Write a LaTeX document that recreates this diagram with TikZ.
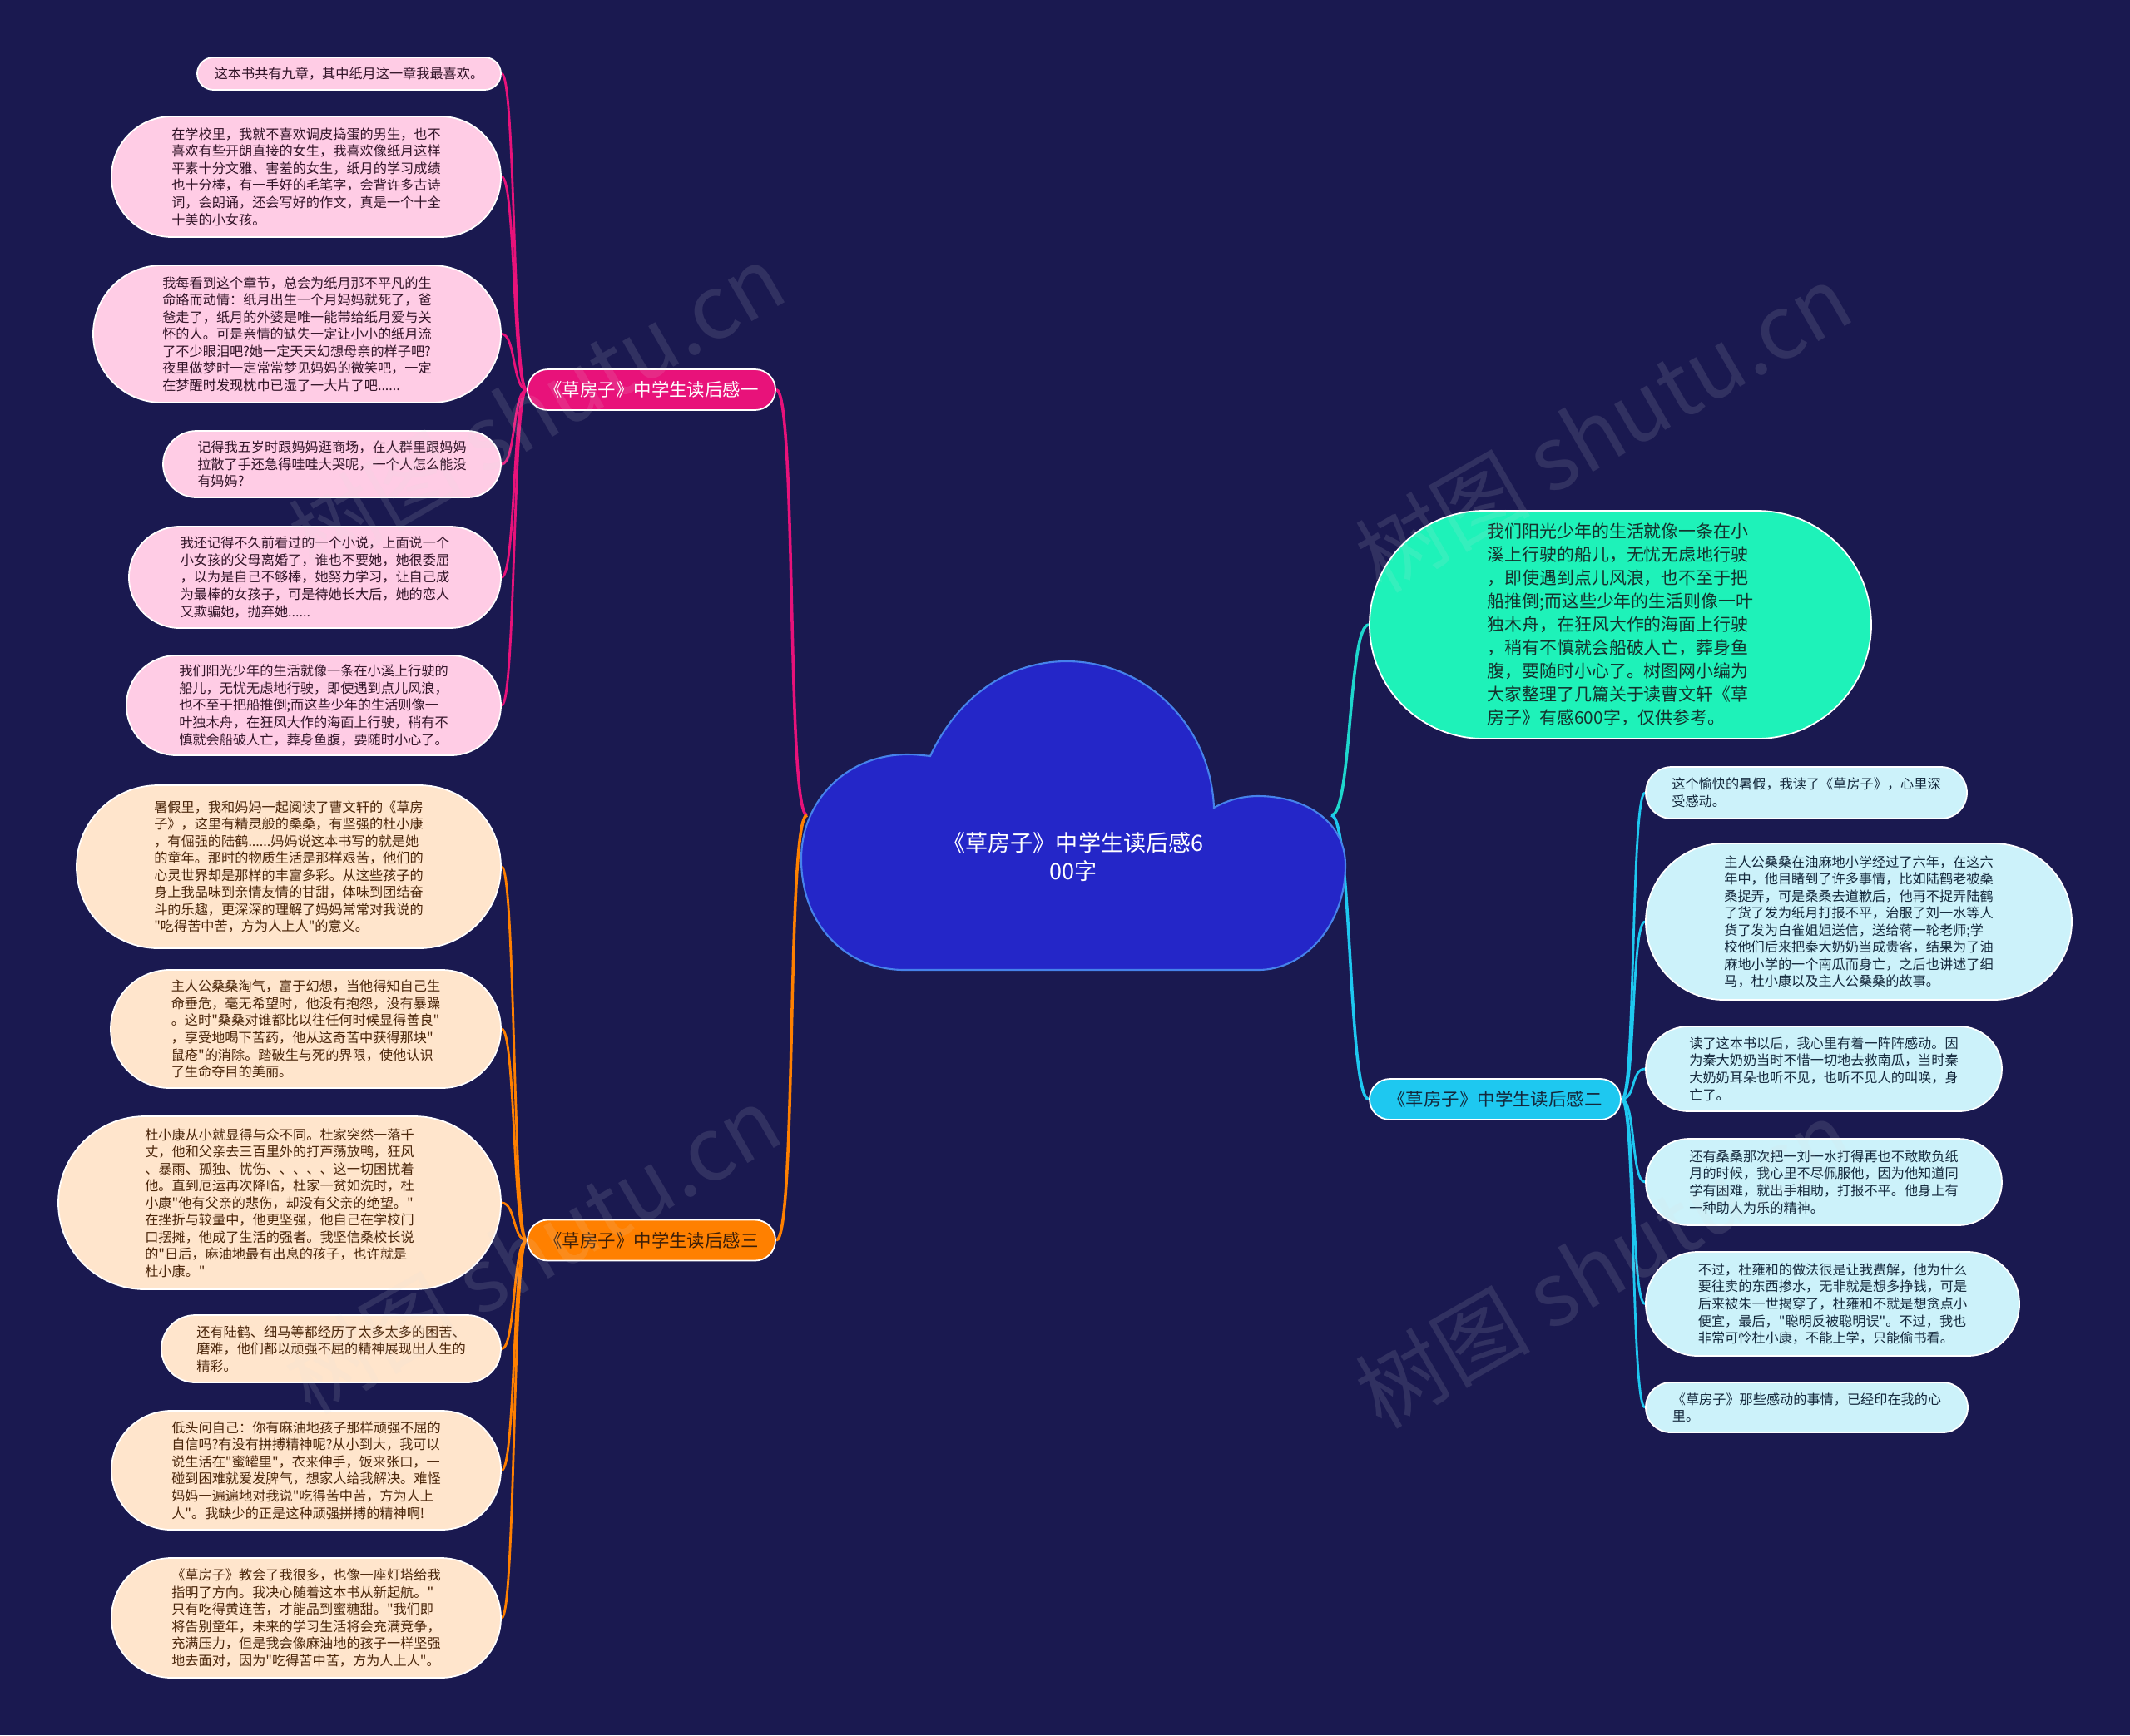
\documentclass[tikz,border=0pt]{standalone}
\usepackage{fontspec}
\setmainfont{Noto Sans CJK SC}[Ligatures=TeXOff]
\usetikzlibrary{shapes.misc}
\definecolor{bgcol}{RGB}{26,25,80}
\definecolor{cloudfill}{RGB}{36,38,200}
\definecolor{cloudline}{RGB}{70,130,235}
\definecolor{pinkmain}{RGB}{232,18,122}
\definecolor{pinkleaf}{RGB}{255,204,229}
\definecolor{pinktext}{RGB}{50,20,40}
\definecolor{orangemain}{RGB}{255,128,0}
\definecolor{orangeleaf}{RGB}{255,229,204}
\definecolor{orangetext}{RGB}{75,38,10}
\definecolor{cyanmain}{RGB}{30,200,240}
\definecolor{cyanleaf}{RGB}{204,242,250}
\definecolor{cyantext}{RGB}{20,40,60}
\definecolor{tealfill}{RGB}{30,242,185}
\definecolor{tealline}{RGB}{30,215,205}
\definecolor{tealtext}{RGB}{20,50,45}
\pgfdeclarelayer{bg}
\pgfdeclarelayer{edges}
\pgfsetlayers{bg,edges,main}
\tikzset{
  leafbase/.style={rounded rectangle, draw=white, line width=0.5pt, align=left,
    font=\fontsize{4.6}{5.85}\selectfont, inner sep=0pt},
  pinkleafbox/.style={leafbase, fill=pinkleaf, text=pinktext},
  orangeleafbox/.style={leafbase, fill=orangeleaf, text=orangetext},
  cyanleafbox/.style={leafbase, fill=cyanleaf, text=cyantext},
  labelbase/.style={rounded rectangle, draw=white, line width=0.5pt, align=center,
    font=\fontsize{6.1}{7}\selectfont, inner sep=0pt, minimum width=2.98cm, minimum height=0.49cm},
  pinkline/.style={draw=pinkmain, line width=0.8pt},
  orangeline/.style={draw=orangemain, line width=0.8pt},
  cyanline/.style={draw=cyanmain, line width=0.8pt},
  watermark/.style={text=white!75!gray, opacity=0.12, rotate=30, font=\fontsize{30}{30}\selectfont}
}
\begin{document}
\begin{tikzpicture}[x=1cm,y=-1cm]
\begin{pgfonlayer}{bg}
\fill[bgcol] (0,0) rectangle (25.6,20.86);
\end{pgfonlayer}
\useasboundingbox (0,0) rectangle (25.6,20.86);

% cloud
\draw[fill=cloudfill, draw=cloudline, line width=0.6pt]
  (10.87,11.66) .. controls (10.15,11.66) and (9.63,11.10) .. (9.63,10.33)
  .. controls (9.63,9.62) and (10.18,9.07) .. (10.91,9.07)
  .. controls (11.00,9.07) and (11.10,9.08) .. (11.18,9.09)
  .. controls (11.50,8.40) and (12.10,7.95) .. (12.82,7.95)
  .. controls (13.75,7.95) and (14.55,8.70) .. (14.59,9.71)
  .. controls (14.75,9.62) and (14.93,9.57) .. (15.12,9.57)
  .. controls (15.72,9.57) and (16.17,9.90) .. (16.17,10.40)
  .. controls (16.17,11.10) and (15.70,11.66) .. (15.12,11.66) -- cycle;
\node[align=center, text=white, font=\fontsize{7.7}{9.8}\selectfont] (root) at (12.90,10.30)
  {《草房子》中学生读后感6\\00字};
\coordinate (jl) at (9.70,9.80);
\coordinate (jr) at (16.00,9.80);

% branch labels
\node[labelbase, fill=pinkmain, text=white] (l1) at (7.83,4.685) {《草房子》中学生读后感一};
\node[labelbase, fill=orangemain, text=orangetext!80!black] (l3) at (7.83,14.91) {《草房子》中学生读后感三};
\node[labelbase, fill=cyanmain, text=cyantext, minimum width=3.02cm] (l2) at (17.97,13.215) {《草房子》中学生读后感二};

% teal node
\node[rounded rectangle, draw=white, line width=0.5pt, fill=tealfill, text=tealtext, align=left,
  font=\fontsize{5.95}{7.95}\selectfont, inner sep=0pt, minimum width=6.03cm, minimum height=2.74cm] (t) at (19.475,7.51)
 {我们阳光少年的生活就像一条在小\\溪上行驶的船儿，无忧无虑地行驶\\，即使遇到点儿风浪，也不至于把\\船推倒;而这些少年的生活则像一叶\\独木舟，在狂风大作的海面上行驶\\，稍有不慎就会船破人亡，葬身鱼\\腹，要随时小心了。树图网小编为\\大家整理了几篇关于读曹文轩《草\\房子》有感600字，仅供参考。};

% pink leaves
\node[pinkleafbox, minimum width=3.65cm, minimum height=0.39cm] (p1) at (4.195,0.885)
 {这本书共有九章，其中纸月这一章我最喜欢。};
\node[pinkleafbox, minimum width=4.68cm, minimum height=1.45cm] (p2) at (3.68,2.125)
 {在学校里，我就不喜欢调皮捣蛋的男生，也不\\喜欢有些开朗直接的女生，我喜欢像纸月这样\\平素十分文雅、害羞的女生，纸月的学习成绩\\也十分棒，有一手好的毛笔字，会背许多古诗\\词，会朗诵，还会写好的作文，真是一个十全\\十美的小女孩。};
\node[pinkleafbox, minimum width=4.90cm, minimum height=1.65cm] (p3) at (3.57,4.015)
 {我每看到这个章节，总会为纸月那不平凡的生\\命路而动情：纸月出生一个月妈妈就死了，爸\\爸走了，纸月的外婆是唯一能带给纸月爱与关\\怀的人。可是亲情的缺失一定让小小的纸月流\\了不少眼泪吧?她一定天天幻想母亲的样子吧?\\夜里做梦时一定常常梦见妈妈的微笑吧，一定\\在梦醒时发现枕巾已湿了一大片了吧......};
\node[pinkleafbox, minimum width=4.06cm, minimum height=0.80cm] (p4) at (3.99,5.58)
 {记得我五岁时跟妈妈逛商场，在人群里跟妈妈\\拉散了手还急得哇哇大哭呢，一个人怎么能没\\有妈妈?};
\node[pinkleafbox, minimum width=4.47cm, minimum height=1.22cm] (p5) at (3.785,6.94)
 {我还记得不久前看过的一个小说，上面说一个\\小女孩的父母离婚了，谁也不要她，她很委屈\\，以为是自己不够棒，她努力学习，让自己成\\为最棒的女孩子，可是待她长大后，她的恋人\\又欺骗她，抛弃她......};
\node[pinkleafbox, minimum width=4.50cm, minimum height=1.20cm] (p6) at (3.77,8.48)
 {我们阳光少年的生活就像一条在小溪上行驶的\\船儿，无忧无虑地行驶，即使遇到点儿风浪，\\也不至于把船推倒;而这些少年的生活则像一\\叶独木舟，在狂风大作的海面上行驶，稍有不\\慎就会船破人亡，葬身鱼腹，要随时小心了。};

% orange leaves
\node[orangeleafbox, minimum width=5.10cm, minimum height=1.96cm] (o1) at (3.47,10.42)
 {暑假里，我和妈妈一起阅读了曹文轩的《草房\\子》，这里有精灵般的桑桑，有坚强的杜小康\\，有倔强的陆鹤......妈妈说这本书写的就是她\\的童年。那时的物质生活是那样艰苦，他们的\\心灵世界却是那样的丰富多彩。从这些孩子的\\身上我品味到亲情友情的甘甜，体味到团结奋\\斗的乐趣，更深深的理解了妈妈常常对我说的\\"吃得苦中苦，方为人上人"的意义。};
\node[orangeleafbox, minimum width=4.69cm, minimum height=1.42cm] (o2) at (3.675,12.37)
 {主人公桑桑淘气，富于幻想，当他得知自己生\\命垂危，毫无希望时，他没有抱怨，没有暴躁\\。这时"桑桑对谁都比以往任何时候显得善良"\\，享受地喝下苦药，他从这奇苦中获得那块"\\鼠疮"的消除。踏破生与死的界限，使他认识\\了生命夺目的美丽。};
\node[orangeleafbox, minimum width=5.32cm, minimum height=2.08cm] (o3) at (3.36,14.46)
 {杜小康从小就显得与众不同。杜家突然一落千\\丈，他和父亲去三百里外的打芦荡放鸭，狂风\\、暴雨、孤独、忧伤、、、、、这一切困扰着\\他。直到厄运再次降临，杜家一贫如洗时，杜\\小康"他有父亲的悲伤，却没有父亲的绝望。"\\在挫折与较量中，他更坚强，他自己在学校门\\口摆摊，他成了生活的强者。我坚信桑校长说\\的"日后，麻油地最有出息的孩子，也许就是\\杜小康。"};
\node[orangeleafbox, minimum width=4.08cm, minimum height=0.81cm] (o4) at (3.98,16.215)
 {还有陆鹤、细马等都经历了太多太多的困苦、\\磨难，他们都以顽强不屈的精神展现出人生的\\精彩。};
\node[orangeleafbox, minimum width=4.68cm, minimum height=1.43cm] (o5) at (3.68,17.675)
 {低头问自己：你有麻油地孩子那样顽强不屈的\\自信吗?有没有拼搏精神呢?从小到大，我可以\\说生活在"蜜罐里"，衣来伸手，饭来张口，一\\碰到困难就爱发脾气，想家人给我解决。难怪\\妈妈一遍遍地对我说"吃得苦中苦，方为人上\\人"。我缺少的正是这种顽强拼搏的精神啊!};
\node[orangeleafbox, minimum width=4.68cm, minimum height=1.44cm] (o6) at (3.68,19.45)
 {《草房子》教会了我很多，也像一座灯塔给我\\指明了方向。我决心随着这本书从新起航。"\\只有吃得黄连苦，才能品到蜜糖甜。"我们即\\将告别童年，未来的学习生活将会充满竞争，\\充满压力，但是我会像麻油地的孩子一样坚强\\地去面对，因为"吃得苦中苦，方为人上人"。};

% cyan leaves
\node[cyanleafbox, minimum width=3.86cm, minimum height=0.62cm] (c1) at (21.71,9.53)
 {这个愉快的暑假，我读了《草房子》，心里深\\受感动。};
\node[cyanleafbox, minimum width=5.12cm, minimum height=1.88cm] (c2) at (22.34,11.08)
 {主人公桑桑在油麻地小学经过了六年，在这六\\年中，他目睹到了许多事情，比如陆鹤老被桑\\桑捉弄，可是桑桑去道歉后，他再不捉弄陆鹤\\了货了发为纸月打报不平，治服了刘一水等人\\货了发为白雀姐姐送信，送给蒋一轮老师;学\\校他们后来把秦大奶奶当成贵客，结果为了油\\麻地小学的一个南瓜而身亡，之后也讲述了细\\马，杜小康以及主人公桑桑的故事。};
\node[cyanleafbox, minimum width=4.28cm, minimum height=1.02cm] (c3) at (21.92,12.85)
 {读了这本书以后，我心里有着一阵阵感动。因\\为秦大奶奶当时不惜一切地去救南瓜，当时秦\\大奶奶耳朵也听不见，也听不见人的叫唤，身\\亡了。};
\node[cyanleafbox, minimum width=4.28cm, minimum height=1.04cm] (c4) at (21.92,14.21)
 {还有桑桑那次把一刘一水打得再也不敢欺负纸\\月的时候，我心里不尽佩服他，因为他知道同\\学有困难，就出手相助，打报不平。他身上有\\一种助人为乐的精神。};
\node[cyanleafbox, minimum width=4.49cm, minimum height=1.25cm] (c5) at (22.025,15.675)
 {不过，杜雍和的做法很是让我费解，他为什么\\要往卖的东西掺水，无非就是想多挣钱，可是\\后来被朱一世揭穿了，杜雍和不就是想贪点小\\便宜，最后，"聪明反被聪明误"。不过，我也\\非常可怜杜小康，不能上学，只能偷书看。};
\node[cyanleafbox, minimum width=3.87cm, minimum height=0.60cm] (c6) at (21.715,16.92)
 {《草房子》那些感动的事情，已经印在我的心\\里。};

% connectors
\begin{pgfonlayer}{edges}
\draw[pinkline, line width=1pt] (jl) .. controls +(-0.25,0) and +(0.25,0) .. (l1.east);
\draw[orangeline, line width=1pt] (jl) .. controls +(-0.25,0) and +(0.25,0) .. (l3.east);
\draw[draw=tealline, line width=1pt] (jr) .. controls +(0.25,0) and +(-0.25,0) .. (t.west);
\draw[cyanline, line width=1pt] (jr) .. controls +(0.25,0) and +(-0.25,0) .. (l2.west);
\foreach \n in {1,...,6} {
  \draw[pinkline] (l1.west) .. controls +(-0.17,0) and +(0.17,0) .. (p\n.east);
  \draw[orangeline] (l3.west) .. controls +(-0.17,0) and +(0.17,0) .. (o\n.east);
  \draw[cyanline] (l2.east) .. controls +(0.17,0) and +(-0.17,0) .. (c\n.west);
}
\end{pgfonlayer}

% watermarks
\node[watermark] (wm1) at (6.45,4.90) {树图 shutu.cn};
\node[watermark] (wm2) at (19.27,5.14) {树图 shutu.cn};
\node[watermark] (wm3) at (6.40,15.02) {树图 shutu.cn};
\node[watermark] (wm4) at (19.27,15.19) {树图 shutu.cn};
\end{tikzpicture}
\end{document}
